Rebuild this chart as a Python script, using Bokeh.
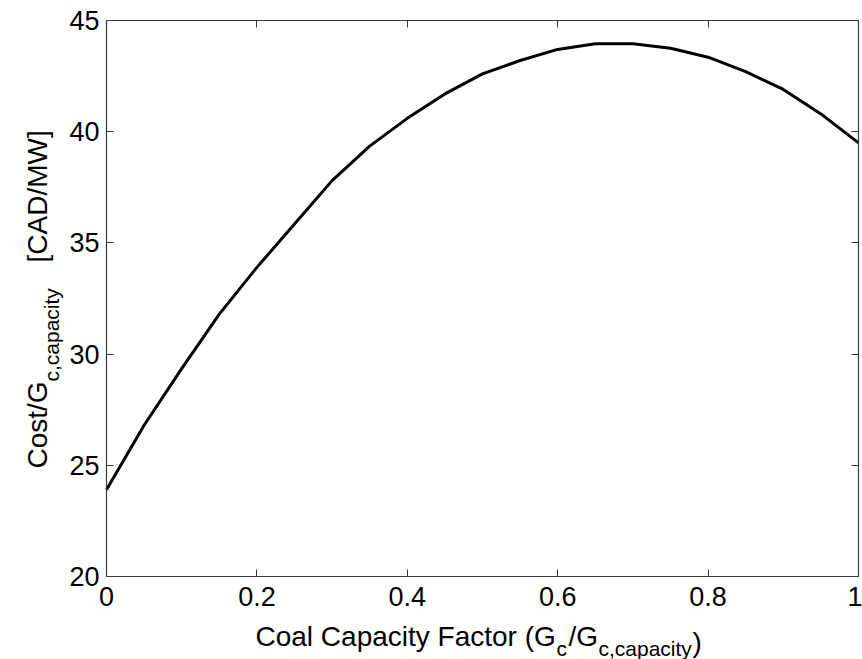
from bokeh.plotting import figure
from bokeh.models import LinearAxis, FixedTicker, Label, Range1d
from bokeh.embed import file_html
from bokeh.resources import INLINE
import math

# Data
capacity_factor = [0.0, 0.05, 0.10, 0.15, 0.20, 0.25, 0.30, 0.35, 0.40, 0.45, 0.50,
                   0.55, 0.60, 0.65, 0.70, 0.75, 0.80, 0.85, 0.90, 0.95, 1.0]
cost_per_capacity = [23.9, 26.8, 29.35, 31.8, 33.9, 35.85, 37.8, 39.35, 40.6, 41.7, 42.6,
                     43.2, 43.7, 43.95, 43.95, 43.75, 43.35, 42.7, 41.9, 40.8, 39.5]
x_ticks = [0, 0.2, 0.4, 0.6, 0.8, 1.0]
x_tick_labels = {0: "0", 0.2: "0.2", 0.4: "0.4", 0.6: "0.6", 0.8: "0.8", 1.0: "1"}
y_ticks = [20, 25, 30, 35, 40, 45]
x_min, x_max = 0.0, 1.0
y_min, y_max = 20.0, 45.0

FONT = "Liberation Sans"
TICK_FS = "27px"
MAIN_FS = "28px"
SUB_FS = "21px"
AXIS_COLOR = "#3a3a3a"

W, H = 862, 659
# plot box in page pixels
BOX_L, BOX_R, BOX_T, BOX_B = 106, 858, 20, 576
xs = (x_max - x_min) / (BOX_R - BOX_L)
ys = (y_max - y_min) / (BOX_B - BOX_T)
xr = Range1d(x_min - BOX_L * xs, x_max + (W - BOX_R) * xs)
yr_ = Range1d(y_min - (H - BOX_B) * ys, y_max + BOX_T * ys)

p = figure(width=W, height=H, x_range=xr, y_range=yr_,
           output_backend="svg", toolbar_location=None, x_axis_location=None,
           y_axis_location=None, min_border=0)
p.outline_line_color = None
p.xgrid.visible = False
p.ygrid.visible = False
p.background_fill_color = "white"
p.border_fill_color = "white"


def style_axis(ax, ticks, show_labels, loc, bounds):
    ax.fixed_location = loc
    ax.bounds = bounds
    ax.ticker = FixedTicker(ticks=ticks)
    ax.minor_tick_line_color = None
    ax.major_tick_in = 7
    ax.major_tick_out = 0
    ax.major_tick_line_color = AXIS_COLOR
    ax.major_tick_line_width = 1
    ax.axis_line_color = AXIS_COLOR
    ax.axis_line_width = 1.2
    if show_labels:
        ax.major_label_text_font = FONT
        ax.major_label_text_font_size = TICK_FS
        ax.major_label_text_color = "black"
    else:
        ax.major_label_overrides = {t: "" for t in ticks}
        ax.major_label_standoff = 0


xb = LinearAxis()
style_axis(xb, x_ticks, True, y_min, (x_min, x_max))
xb.major_label_overrides = x_tick_labels
xb.major_label_standoff = 10
p.add_layout(xb, "below")

yl = LinearAxis()
style_axis(yl, y_ticks, True, x_min, (y_min, y_max))
yl.major_label_standoff = 7
p.add_layout(yl, "left")

xt = LinearAxis()
style_axis(xt, x_ticks, False, y_max, (x_min, x_max))
p.add_layout(xt, "above")

yrt = LinearAxis()
style_axis(yrt, y_ticks, False, x_max, (y_min, y_max))
p.add_layout(yrt, "right")

p.line(capacity_factor, cost_per_capacity, line_color="black", line_width=3,
       line_join="round")


# Axis labels built from pieces, placed in canvas pixels (origin top-left)
def lab(text, cx, cy, fs, angle=0.0):
    p.add_layout(Label(x=cx, y=cy, x_units="canvas", y_units="canvas",
                       text=text, text_font=FONT, text_font_size=fs,
                       text_color="black", text_align="left",
                       text_baseline="alphabetic", angle=angle))


# x label: Coal Capacity Factor (G_c/G_{c,capacity})
lab("Coal Capacity Factor (G", 255, 636, MAIN_FS)
lab("c", 556, 648, SUB_FS)
lab("/G", 568, 636, MAIN_FS)
lab("c,capacity", 598, 648, SUB_FS)
lab(")", 692, 642, MAIN_FS)

# y label: Cost/G_{c,capacity}  [CAD/MW]  (rotated, reads upward)
rot = math.pi / 2
lab("Cost/G", 37, 468, MAIN_FS, rot)
lab("c,capacity", 51, 381, SUB_FS, rot)
lab("[CAD/MW]", 37, 262, MAIN_FS, rot)

open("out.html", "w").write(file_html(p, INLINE))
